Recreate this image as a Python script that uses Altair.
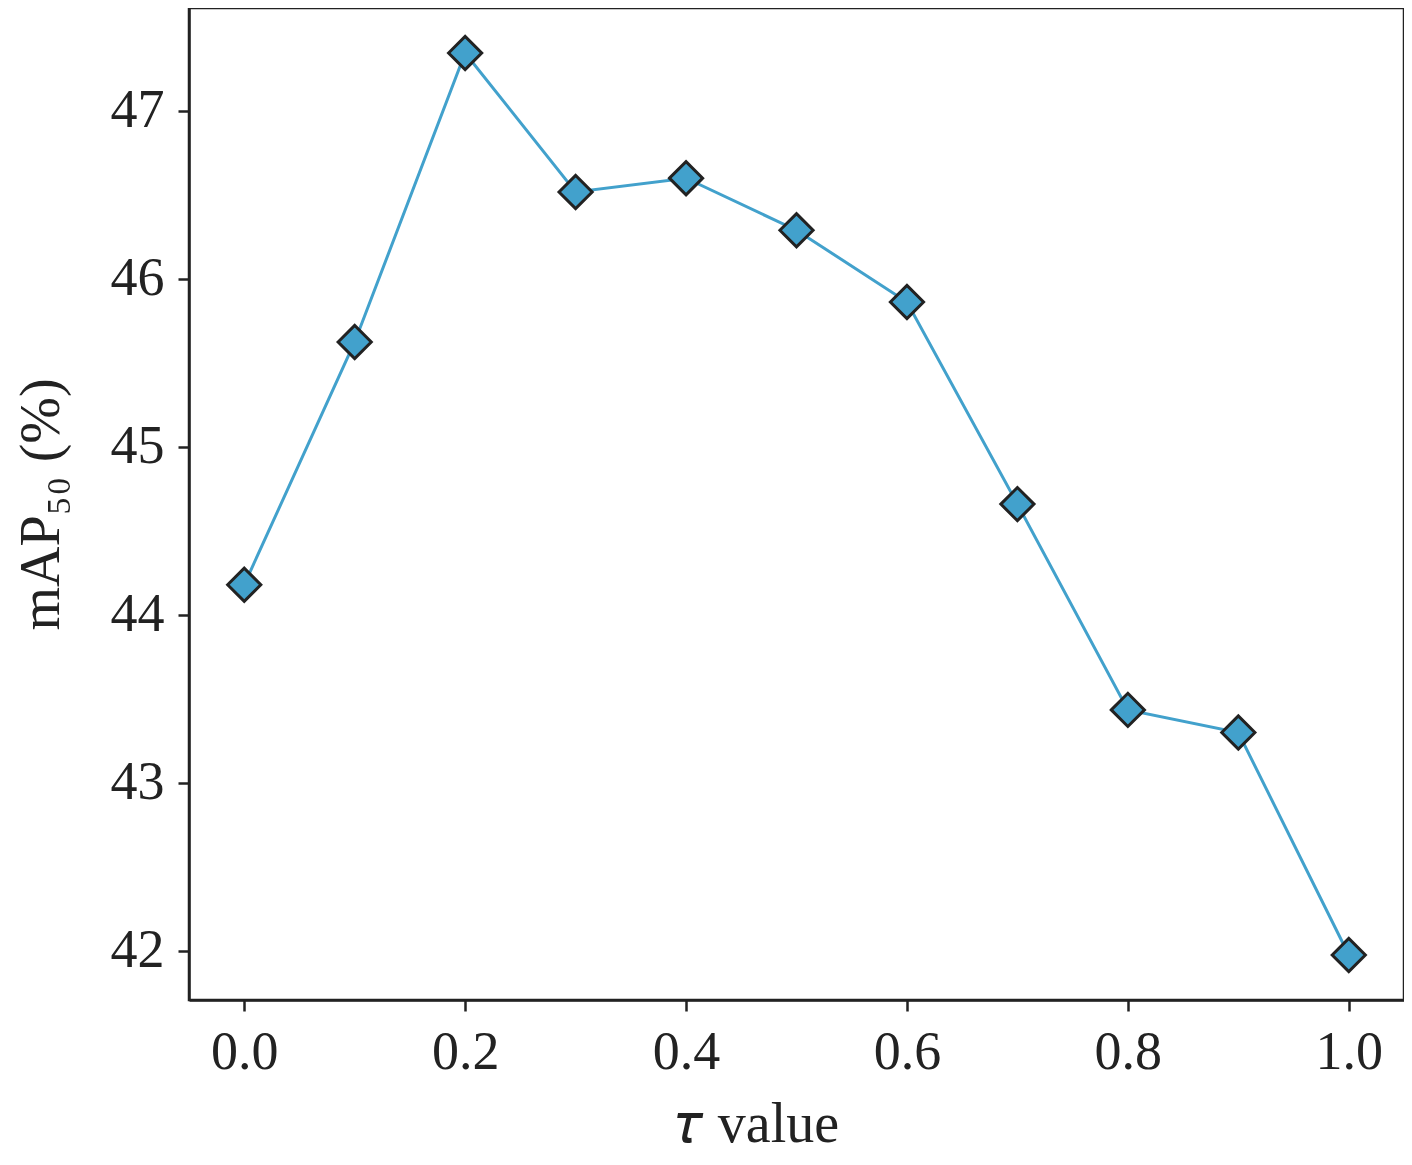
import altair as alt
import pandas as pd

tau = [0.0, 0.1, 0.2, 0.3, 0.4, 0.5, 0.6, 0.7, 0.8, 0.9, 1.0]
map50 = [44.18, 45.625, 47.345, 46.518, 46.60, 46.29, 45.863, 44.66, 43.435, 43.30, 41.976]
x_ticks = [0.0, 0.2, 0.4, 0.6, 0.8, 1.0]
y_ticks = [42, 43, 44, 45, 46, 47]

df = pd.DataFrame({"tau": tau, "map": map50})

FONT = "Liberation Serif"
INK = "#222222"
BLUE = "#42a1cc"

x = alt.X("tau:Q", scale=alt.Scale(domain=[-0.05, 1.05], nice=False, zero=False),
          axis=alt.Axis(values=x_ticks, format=".1f", title="𝜏 value",
                        titleX=568, titlePadding=18))
y = alt.Y("map:Q", scale=alt.Scale(domain=[41.708, 47.613], nice=False, zero=False),
          axis=alt.Axis(values=y_ticks, format="d", title="mAP₅₀ (%)", titlePadding=40))

line = alt.Chart(df).mark_line(color=BLUE, strokeWidth=3).encode(x=x, y=y)
pts = alt.Chart(df).mark_point(shape="diamond", filled=True, fill=BLUE, stroke=INK,
                               strokeWidth=3, size=1100, opacity=1).encode(x=x, y=y)

chart = (line + pts).properties(
    width=1215, height=992,
    autosize=alt.AutoSizeParams(type="none"),
    padding={"left": 181, "top": 0, "right": 0, "bottom": 157},
).configure_view(stroke=INK, strokeWidth=2.5).configure_axis(
    grid=False, labelFont=FONT, titleFont=FONT, labelFontSize=54, titleFontSize=56,
    labelColor=INK, titleColor=INK, titleFontWeight="normal",
    domainColor=INK, domainWidth=2.5, tickColor=INK, tickWidth=2.5, tickSize=11,
    labelPadding=14,
)

chart.save("out.html", embed_options={"renderer": "svg", "actions": False})
